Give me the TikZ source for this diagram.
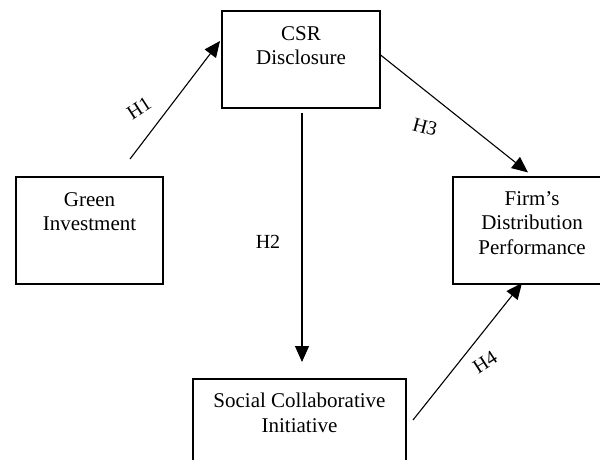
\documentclass[tikz,border=0pt]{standalone}
\usepackage{fontspec}
\setmainfont{Liberation Serif}
\usetikzlibrary{arrows.meta}
\begin{document}
\begin{tikzpicture}[x=1pt,y=-1pt,
  box/.style={draw, line width=1.1pt, inner sep=0pt},
  txt/.style={align=center, inner sep=0pt, font=\fontsize{21}{24.5}\selectfont},
  arr/.style={line width=1.1pt, -{Triangle[length=16pt,width=14pt]}},
  hlab/.style={inner sep=0pt, font=\fontsize{20}{24}\selectfont}]
\useasboundingbox (0,0) rectangle (600,460);
\clip (0,0) rectangle (600,460);
% boxes
\node[box, minimum width=158pt, minimum height=97pt] (csr) at (301,59.5) {};
\node[box, minimum width=147pt, minimum height=107pt] (green) at (89.5,230.5) {};
\node[box, minimum width=158pt, minimum height=107pt] (firm) at (532,230.5) {};
\node[box, minimum width=213pt, minimum height=107pt] (social) at (299.5,432.5) {};
% texts
\node[txt, anchor=north] (csrtxt) at (301,26) {CSR\\Disclosure};
\node[txt, anchor=north] (greentxt) at (89.5,192) {Green\\Investment};
\node[txt, anchor=north] (firmtxt) at (532,191) {Firm’s\\Distribution\\Performance};
\node[txt, anchor=north] (socialtxt) at (299.5,393) {Social Collaborative\\Initiative};
% connector ends
\coordinate (h1s) at (130,159);
\coordinate (h1e) at (220,41);
\coordinate (h2s) at (302,113);
\coordinate (h2e) at (302,362);
\coordinate (h4s) at (413,420);
\coordinate (h4e) at (522,283);
% connectors
\draw[arr] (h1s) -- (h1e);
\draw[arr] ([yshift=4.5pt]csr.east) -- ([xshift=-4pt,yshift=4pt]firm.north);
\draw[arr] (h2s) -- (h2e);
\draw[arr] (h4s) -- (h4e);
% labels
\node[hlab, rotate=33] (l1) at (139,108) {H1};
\node[hlab] (l2) at (268,242) {H2};
\node[hlab, rotate=-15] (l3) at (425,127) {H3};
\node[hlab, rotate=33] (l4) at (485,362) {H4};
\end{tikzpicture}
\end{document}
